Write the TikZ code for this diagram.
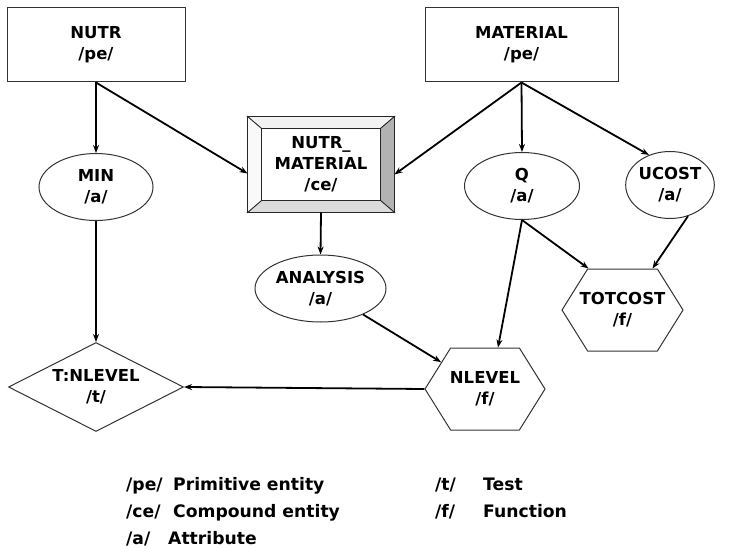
\documentclass[tikz,border=0pt]{standalone}
\usepackage{fontspec}
\setmainfont{DejaVu Sans}
\usetikzlibrary{shapes.geometric,shapes.symbols,arrows.meta,calc}
% centre a label in a narrow box so the hexagon keeps its own width
\newcommand{\narrowlabel}[1]{\makebox[40pt]{#1}}
\begin{document}
\begin{tikzpicture}[x=1pt,y=-1pt,
  every node/.style={font=\bfseries\fontsize{16.5}{21}\selectfont, align=center, inner sep=0pt},
  outline/.style={draw=black!80, line width=1pt, fill=white},
  entity/.style={outline, rectangle, minimum height=74pt},
  attr/.style={outline, ellipse, minimum height=67pt},
  func/.style={outline, signal, signal to=west and east, signal pointer angle=116,
    minimum width=121pt, minimum height=82pt},
  test/.style={outline, diamond, aspect=1.97, minimum width=175pt, minimum height=89pt},
  bevel/.style={draw=black!85, line width=0.8pt},
  link/.style={-{Stealth[length=8pt,width=6pt]}, line width=1.8pt},
  legend/.style={anchor=base west, font=\bfseries\fontsize{17.2}{20}\selectfont}
]
\useasboundingbox (0,0) rectangle (741,548);

% primitive entities
\node[entity, minimum width=178pt] (nutr) at (96,45) {NUTR\\/pe/};
\node[entity, minimum width=193pt] (material) at (521.5,45) {MATERIAL\\/pe/};

% compound entity with bevelled frame
\node[outline, rectangle, minimum width=146pt, minimum height=95pt] (nm) at (321,164.5) {NUTR\_\\MATERIAL\\/ce/};
\coordinate (nmA) at ($(nm.north west)+(14,12)$);
\coordinate (nmB) at ($(nm.north east)+(-14,12)$);
\coordinate (nmC) at ($(nm.south east)+(-14,-12)$);
\coordinate (nmD) at ($(nm.south west)+(14,-12)$);
\filldraw[bevel, fill=gray!10] (nm.north west) -- (nm.north east) -- (nmB) -- (nmA) -- cycle;
\filldraw[bevel, fill=gray!60] (nm.north east) -- (nm.south east) -- (nmC) -- (nmB) -- cycle;
\filldraw[bevel, fill=gray!28] (nm.south east) -- (nm.south west) -- (nmD) -- (nmC) -- cycle;
\filldraw[bevel, fill=gray!5] (nm.south west) -- (nm.north west) -- (nmA) -- (nmD) -- cycle;

% attributes
\node[attr, minimum width=114pt] (min) at (96,187) {MIN\\/a/};
\node[attr, minimum width=115pt] (q) at (522,186) {Q\\/a/};
\node[attr, minimum width=77pt] (ucost) at (670,185) {UCOST\\/a/};
\node[attr, minimum width=131pt] (analysis) at (320.5,288.5) {ANALYSIS\\/a/};

% functions and test
\node[func] (totcost) at (622.5,310) {\narrowlabel{TOTCOST}\\/f/};
\node[func, minimum width=120pt] (nlevel) at (485,389) {\narrowlabel{NLEVEL}\\/f/};
\node[test] (tn) at (96,387) {T:NLEVEL\\/t/};

% connectors
\draw[link] (nutr.south) -- (min.north);
\draw[link] (nutr.south) -- ($(nm.west)+(0,9)$);
\draw[link] (material.south) -- ($(nm.east)+(0,10)$);
\draw[link] (material.south) -- (q.north);
\draw[link] (material.south) -- (ucost.125);
\draw[link] (min.south) -- (tn.north);
\draw[link] (nm.south) -- (analysis.north);
\draw[link] (analysis) -- (nlevel);
\draw[link] (q.south) -- ($(nlevel.north)+(13,0)$);
\draw[link] (q.south) -- ($(totcost.north)+(-34,0)$);
\draw[link] (ucost.-60) -- ($(totcost.north)+(30,0)$);
\draw[link] (nlevel.west) -- (tn.east);

% legend
\node[legend] (lpe) at (126,490) {/pe/};
\node[legend] (lped) at (173,490) {Primitive entity};
\node[legend] (lce) at (126,517) {/ce/};
\node[legend] (lced) at (173,517) {Compound entity};
\node[legend] (la) at (126,544) {/a/};
\node[legend] (lad) at (168,544) {Attribute};
\node[legend] (lt) at (435,490) {/t/};
\node[legend] (ltd) at (483,490) {Test};
\node[legend] (lf) at (435,517) {/f/};
\node[legend] (lfd) at (483,517) {Function};
\end{tikzpicture}
\end{document}
